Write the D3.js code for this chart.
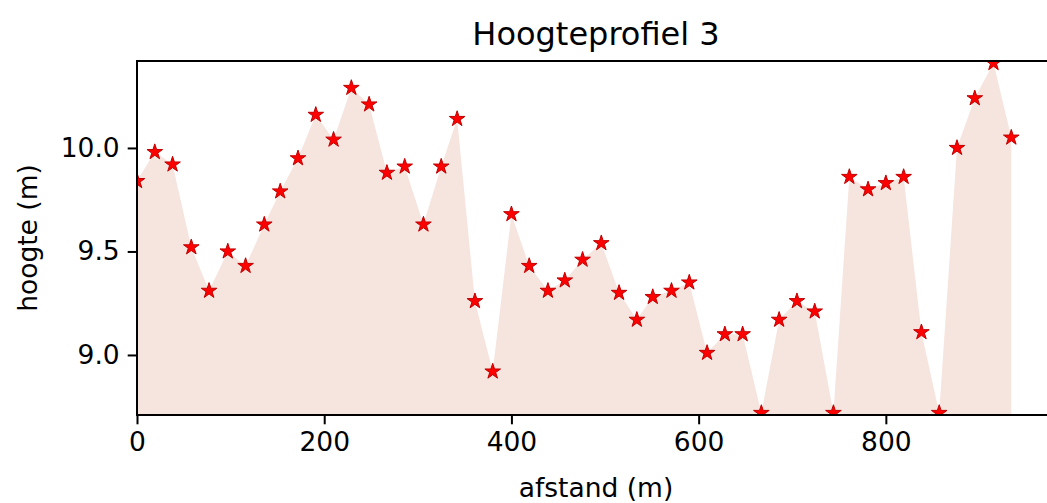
<!DOCTYPE html>
<html>
<head>
<meta charset="utf-8">
<script src="https://cdn.jsdelivr.net/npm/d3@7"></script>
<style>
  html, body { margin: 0; padding: 0; background: #fff; overflow: hidden; }
  svg { display: block; }
  text { font-family: "DejaVu Sans", sans-serif; fill: #000; }
</style>
</head>
<body>
<svg id="chart" width="1047" height="503"></svg>
<script>
// Distances (m)
const afstand = [0, 19, 38, 58, 77, 97, 116, 136, 153, 172,
  191, 210, 229, 248, 267, 286, 306, 325, 342, 361,
  380, 400, 419, 439, 457, 476, 496, 515, 534, 551,
  571, 590, 609, 628, 647, 667, 686, 705, 724, 744,
  761, 781, 800, 819, 838, 857, 876, 895, 915, 934];
// Heights (m)
const hoogte = [9.84, 9.98, 9.92, 9.52, 9.31, 9.50, 9.43, 9.63, 9.79, 9.95,
  10.16, 10.04, 10.29, 10.21, 9.88, 9.91, 9.63, 9.91, 10.14, 9.26,
  8.92, 9.68, 9.43, 9.31, 9.36, 9.46, 9.54, 9.30, 9.17, 9.28,
  9.31, 9.35, 9.01, 9.10, 9.10, 8.72, 9.17, 9.26, 9.21, 8.72,
  9.86, 9.80, 9.83, 9.86, 9.11, 8.72, 10.00, 10.24, 10.41, 10.05];
const xTicks = [0, 200, 400, 600, 800];
const yTicks = [9.0, 9.5, 10.0];
const titel = "Hoogteprofiel 3";
const xLabel = "afstand (m)";
const yLabel = "hoogte (m)";

(function () {
const svg = d3.select("#chart");
const mLeft = 137, mRight = 1055, mTop = 61, mBottom = 415;

const x = d3.scaleLinear().domain([0, 980.7]).range([mLeft, mRight]);
const y = d3.scaleLinear().domain([8.71, 10.42]).range([mBottom, mTop]);

const data = afstand.map((d, i) => ({ x: d, y: hoogte[i] }));

svg.append("defs").append("clipPath").attr("id", "clip")
  .append("rect").attr("x", mLeft).attr("y", mTop)
  .attr("width", mRight - mLeft).attr("height", mBottom - mTop);

const plot = svg.append("g").attr("clip-path", "url(#clip)");

const area = d3.area().x(d => x(d.x)).y0(y(8.0)).y1(d => y(d.y));
plot.append("path").datum(data).attr("d", area)
  .attr("fill", "#f6e4de").attr("stroke", "none");

function starPath(R) {
  const r = R * 0.381966;
  const pts = [];
  for (let k = 0; k < 10; k++) {
    const ang = -Math.PI / 2 + k * Math.PI / 5;
    const rad = k % 2 === 0 ? R : r;
    pts.push([rad * Math.cos(ang), rad * Math.sin(ang)]);
  }
  return "M" + pts.map(p => p[0].toFixed(2) + "," + p[1].toFixed(2)).join("L") + "Z";
}
const sp = starPath(8.2);
plot.selectAll("path.star").data(data).enter().append("path")
  .attr("class", "star")
  .attr("d", sp)
  .attr("transform", d => `translate(${x(d.x)},${y(d.y)})`)
  .attr("fill", "#ff0000")
  .attr("stroke", "#c00000")
  .attr("stroke-width", 1)
  .attr("stroke-linejoin", "miter");

const xAxis = d3.axisBottom(x).tickValues(xTicks).tickFormat(d3.format("d"))
  .tickSize(9.3).tickPadding(8);
const gx = svg.append("g").attr("transform", `translate(0,${mBottom})`).call(xAxis);
gx.select(".domain").remove();
gx.selectAll(".tick line").attr("stroke", "#000").attr("stroke-width", 2);
gx.selectAll(".tick text").attr("font-size", 26.5).attr("font-family", "DejaVu Sans");

const yAxis = d3.axisLeft(y).tickValues(yTicks).tickFormat(d3.format(".1f"))
  .tickSize(9.3).tickPadding(8);
const gy = svg.append("g").attr("transform", `translate(${mLeft},0)`).call(yAxis);
gy.select(".domain").remove();
gy.selectAll(".tick line").attr("stroke", "#000").attr("stroke-width", 2);
gy.selectAll(".tick text").attr("font-size", 26.5).attr("font-family", "DejaVu Sans");

svg.append("rect").attr("x", mLeft).attr("y", mTop)
  .attr("width", mRight - mLeft).attr("height", mBottom - mTop)
  .attr("fill", "none").attr("stroke", "#000").attr("stroke-width", 2);

svg.append("text").attr("x", (mLeft + mRight) / 2).attr("y", 45)
  .attr("text-anchor", "middle").attr("font-size", 32).text(titel);
svg.append("text").attr("x", (mLeft + mRight) / 2).attr("y", 497)
  .attr("text-anchor", "middle").attr("font-size", 26.5).text(xLabel);
svg.append("text").attr("transform", `translate(37,${(mTop + mBottom) / 2}) rotate(-90)`)
  .attr("text-anchor", "middle").attr("font-size", 26.5).text(yLabel);
})();
</script>
</body>
</html>
